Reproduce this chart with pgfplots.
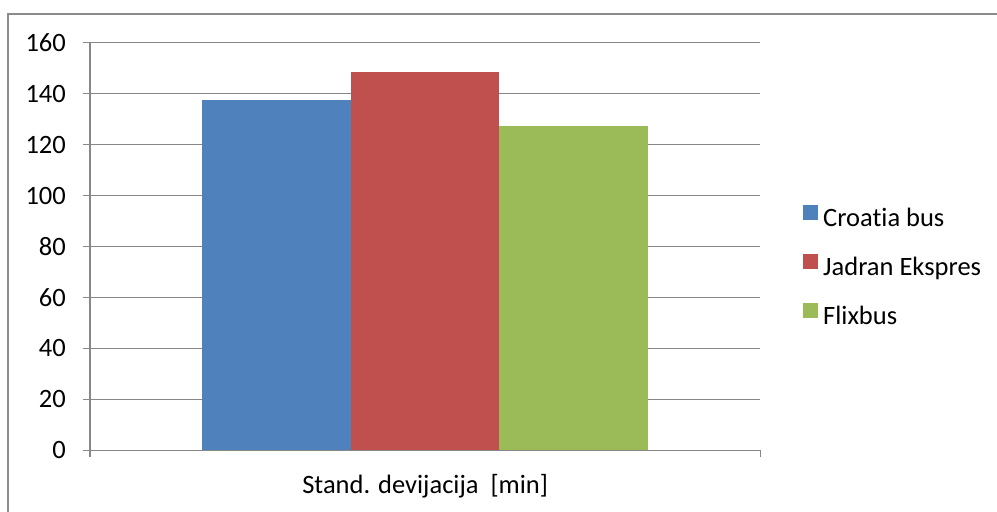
\documentclass[border=0pt]{standalone}
\usepackage{fontspec}
\setmainfont{Carlito}[Ligatures={NoCommon,NoContextual},RawFeature={-liga;-clig;-dlig;-calt}]
\usepackage{pgfplots}
\pgfplotsset{compat=1.18}
\definecolor{cblue}{HTML}{4F81BD}
\definecolor{cred}{HTML}{C0504D}
\definecolor{cgreen}{HTML}{9BBB59}
\definecolor{gridgray}{HTML}{878787}
\definecolor{framegray}{HTML}{8C8C8C}
\newcommand{\cf}{\fontsize{26.5bp}{31bp}\selectfont}
\begin{document}
\cf
\begin{tikzpicture}
\path[use as bounding box] (0,0) rectangle (997bp,512bp);
\draw[color=framegray, line width=1.2bp] (8bp,0) -- (8bp,498bp) -- (997bp,498bp);
\begin{axis}[
  at={(90bp,61.7bp)}, anchor=south west,
  scale only axis, width=670.3bp, height=407.6bp,
  xmin=-0.5, xmax=0.5, ymin=0, ymax=160,
  ytick={0,20,...,160},
  xtick={-0.5,0.5}, xticklabels={},
  extra x ticks={0}, extra x tick labels={Stand. devijacija\ \ [min]},
  extra x tick style={major tick length=0pt, xticklabel style={anchor=base, inner sep=0pt, yshift=-43bp}},
  axis x line*=bottom, axis y line*=left,
  axis line style={gridgray, line width=1.2bp},
  ymajorgrids, grid style={gridgray, line width=1.2bp},
  tick style={gridgray, line width=1.2bp},
  major tick length=7bp, tick align=outside,
  /pgf/number format/assume math mode=true,
  tick label style={font=\cf, text=black},
  yticklabel style={anchor=east, inner sep=0pt, xshift=-17bp},
  ybar=0pt, bar width=0.2218,
  every axis plot post/.append style={legend image code/.code={\fill[##1] (0bp,0bp) rectangle (15bp,15bp);}},
  legend style={at={(axis description cs:1.0637,0.4473)}, anchor=west, draw=none, fill=none,
    inner sep=0pt, font=\cf, row sep=22bp,
    nodes={inner sep=0pt, text height=18bp, text depth=6bp},
    /tikz/every odd column/.style={column sep=5bp}},
  legend cell align=left,
]
\addplot[draw=none, fill=cblue] coordinates {(0,137.4)};
\addplot[draw=none, fill=cred] coordinates {(0,148.5)};
\addplot[draw=none, fill=cgreen] coordinates {(0,127.3)};
\legend{Croatia bus, Jadran Ekspres, Flixbus}
\end{axis}
\end{tikzpicture}
\end{document}
